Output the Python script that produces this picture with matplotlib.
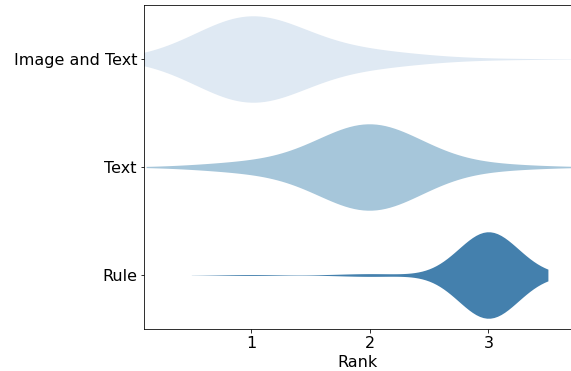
import numpy as np
import pandas as pd
import matplotlib
matplotlib.use("Agg")
import matplotlib.pyplot as plt
import seaborn as sns

categories = ["Image and Text", "Text", "Rule"]
ranks = [1, 2, 3]
# number of responses per rank (1, 2, 3) for each category
counts_image_text = [85, 14, 1]
counts_text = [9, 86, 5]
counts_rule = [1, 3, 96]
colors = ["#dfe9f3", "#a6c6da", "#4480ad"]
bw_factors = [1.19, 1.18, 0.96]

fig = plt.figure(figsize=(571 / 72, 371 / 72), dpi=72)
ax = fig.add_axes([144 / 571, 1 - 329 / 371, 427.5 / 571, 324 / 371])
for cat, cnts, col, bw in zip(categories,
                              [counts_image_text, counts_text, counts_rule],
                              colors, bw_factors):
    values = np.repeat(ranks, cnts)
    sns.violinplot(x=values, y=[cat] * len(values), order=categories,
                   color=col, saturation=1, orient="h", inner=None,
                   linewidth=0, cut=2, density_norm="width",
                   bw_method=bw, ax=ax)
ax.set_xlim(0.1, 3.7)
ax.set_ylim(2.5, -0.5)
ax.set_xticks(ranks)
ax.set_xlabel("Rank", fontsize=16)
ax.set_ylabel("")
ax.tick_params(labelsize=16)
ax.spines["right"].set_visible(False)
fig.savefig("out.png", dpi=72)
